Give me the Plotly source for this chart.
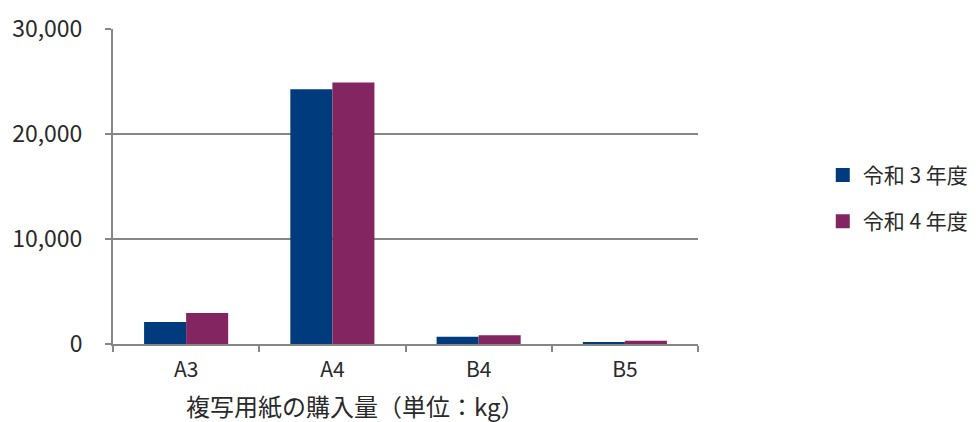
import plotly.graph_objects as go

categories = ["A3", "A4", "B4", "B5"]
r3_values = [2100, 24250, 700, 200]
r4_values = [2950, 24900, 830, 300]
series_names = ["令和 3 年度", "令和 4 年度"]
colors = ["#003C7D", "#822560"]
y_ticks = [0, 10000, 20000, 30000]
y_tick_labels = ["0", "10,000", "20,000", "30,000"]
x_title = "複写用紙の購入量（単位：kg）"

FONT = "Noto Sans CJK JP, Noto Sans, sans-serif"
TXT = "#2a2a2a"

fig = go.Figure()
for name, vals, col in zip(series_names, [r3_values, r4_values], colors):
    fig.add_trace(go.Bar(x=categories, y=vals, name=name, marker_color=col,
                         marker_line_width=0, showlegend=False))
    fig.add_trace(go.Scatter(x=[None], y=[None], mode="markers", name=name,
                             marker=dict(symbol="square", size=14, color=col),
                             legendgroup=name, showlegend=True))

fig.add_annotation(text=x_title, xref="paper", yref="paper",
                   x=0.414, y=-0.195, xanchor="center", yanchor="middle",
                   showarrow=False, font=dict(size=24, color=TXT))

fig.update_layout(
    width=976, height=422,
    margin=dict(l=113, r=278, t=29, b=78),
    paper_bgcolor="white", plot_bgcolor="white",
    barmode="group", bargap=0.425, bargroupgap=0,
    font=dict(family=FONT, size=21, color=TXT),
    legend=dict(x=0.843, xref="container", xanchor="left",
                y=0.53, yref="container", yanchor="middle",
                font=dict(size=21, color=TXT),
                traceorder="grouped", tracegroupgap=16, itemwidth=30),
    xaxis=dict(
        showline=True, linecolor="#868686", linewidth=2,
        ticks="outside", tickson="boundaries", ticklen=6, tickcolor="#868686",
        tickwidth=2, showgrid=False, ticklabelstandoff=6, automargin=False,
        tickfont=dict(size=21, color=TXT),
    ),
    yaxis=dict(
        range=[0, 30000], tickvals=y_ticks, ticktext=y_tick_labels,
        showline=True, linecolor="#868686", linewidth=2,
        ticks="outside", ticklen=6, tickcolor="#868686", tickwidth=2,
        showgrid=True, gridcolor="#868686", gridwidth=1.5,
        zeroline=False, tickfont=dict(size=23, color=TXT),
        ticklabelstandoff=18, automargin=False,
    ),
)

fig.write_html("out.html")
